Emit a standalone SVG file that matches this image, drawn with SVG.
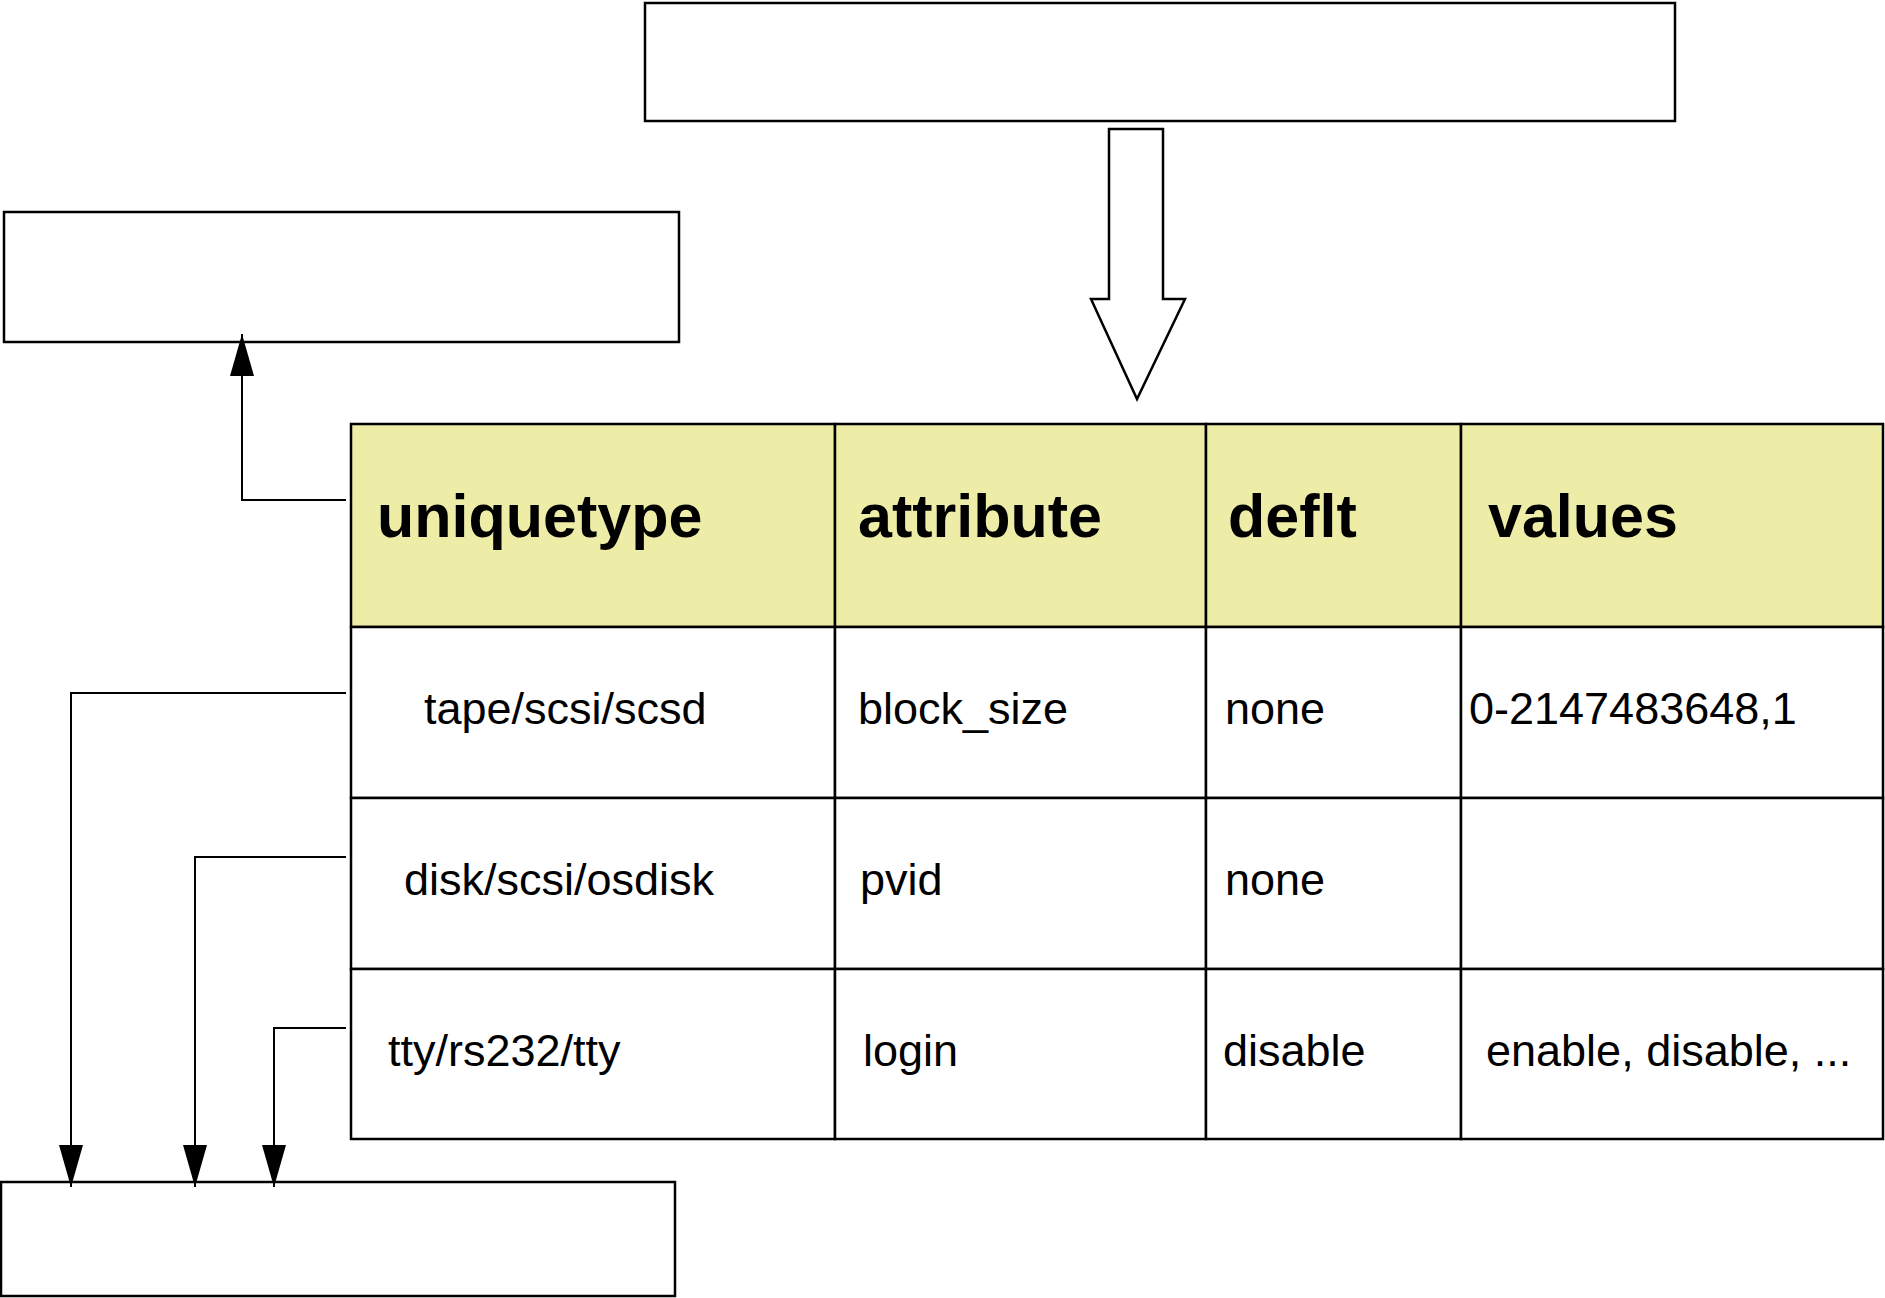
<svg xmlns="http://www.w3.org/2000/svg" width="1885" height="1298" viewBox="0 0 1885 1298">
<defs>
<style>
.box{fill:#fff;stroke:#000;stroke-width:2.5}
.hdr{fill:#EEEDA8;stroke:#000;stroke-width:2.5}
.cell{fill:#fff;stroke:#000;stroke-width:2.5}
.conn{fill:none;stroke:#000;stroke-width:2}
.h{font-family:"Liberation Sans",Arial,sans-serif;font-weight:bold;font-size:61px;fill:#000}
.t{font-family:"Liberation Sans",Arial,sans-serif;font-size:45px;fill:#000}
</style>
<marker id="ah" markerUnits="userSpaceOnUse" markerWidth="44" markerHeight="26" refX="42" refY="13" orient="auto" viewBox="0 0 44 26">
<path d="M0,1 L42,13 L0,25 z" fill="#000"/>
</marker>
</defs>
<rect width="1885" height="1298" fill="#fff"/>
<g id="top-box"><rect class="box" x="645" y="3" width="1030" height="118"/></g>
<g id="left-box"><rect class="box" x="4" y="212" width="675" height="130"/></g>
<g id="bottom-box"><rect class="box" x="1" y="1182" width="674" height="114"/></g>
<g id="block-arrow"><polygon class="box" points="1109,129 1163,129 1163,299 1185,299 1137,399 1091,299 1109,299"/></g>
<g id="table">
<rect class="hdr" x="351" y="424" width="484" height="203"/>
<rect class="hdr" x="835" y="424" width="371" height="203"/>
<rect class="hdr" x="1206" y="424" width="255" height="203"/>
<rect class="hdr" x="1461" y="424" width="422" height="203"/>
<rect class="cell" x="351" y="627" width="484" height="171"/>
<rect class="cell" x="835" y="627" width="371" height="171"/>
<rect class="cell" x="1206" y="627" width="255" height="171"/>
<rect class="cell" x="1461" y="627" width="422" height="171"/>
<rect class="cell" x="351" y="798" width="484" height="171"/>
<rect class="cell" x="835" y="798" width="371" height="171"/>
<rect class="cell" x="1206" y="798" width="255" height="171"/>
<rect class="cell" x="1461" y="798" width="422" height="171"/>
<rect class="cell" x="351" y="969" width="484" height="170"/>
<rect class="cell" x="835" y="969" width="371" height="170"/>
<rect class="cell" x="1206" y="969" width="255" height="170"/>
<rect class="cell" x="1461" y="969" width="422" height="170"/>
<text class="h" x="377" y="537">uniquetype</text>
<text class="h" x="858" y="537">attribute</text>
<text class="h" x="1228" y="537">deflt</text>
<text class="h" x="1488" y="537">values</text>
<text class="t" x="424" y="724">tape/scsi/scsd</text>
<text class="t" x="858" y="724">block_size</text>
<text class="t" x="1225" y="724">none</text>
<text class="t" x="1469" y="724">0-2147483648,1</text>
<text class="t" x="404" y="895">disk/scsi/osdisk</text>
<text class="t" x="860" y="895">pvid</text>
<text class="t" x="1225" y="895">none</text>
<text class="t" x="388" y="1066">tty/rs232/tty</text>
<text class="t" x="863" y="1066">login</text>
<text class="t" x="1223" y="1066">disable</text>
<text class="t" x="1486" y="1066">enable, disable, ...</text>
</g>
<g id="connectors">
<polyline class="conn" points="346,500 242,500 242,334" marker-end="url(#ah)"/>
<polyline class="conn" points="346,693 71,693 71,1187" marker-end="url(#ah)"/>
<polyline class="conn" points="346,857 195,857 195,1187" marker-end="url(#ah)"/>
<polyline class="conn" points="346,1028 274,1028 274,1187" marker-end="url(#ah)"/>
</g>
</svg>
